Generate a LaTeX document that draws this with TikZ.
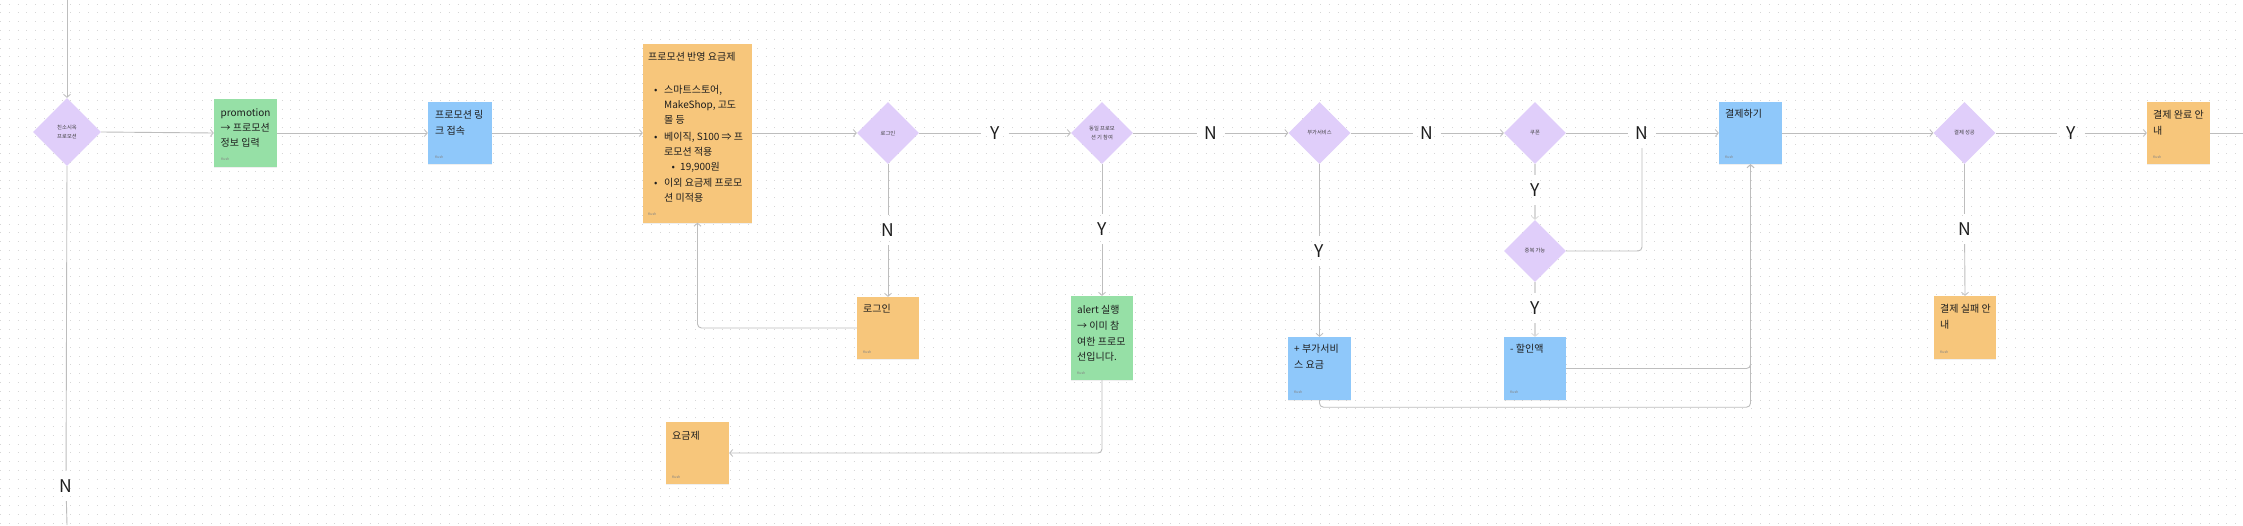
\documentclass[tikz,border=0pt]{standalone}
\usepackage{fontspec}
\setmainfont{Noto Sans CJK KR}
\usetikzlibrary{shapes.geometric,arrows.meta,calc,shadows}
\definecolor{dia}{HTML}{E0CEFA}
\definecolor{grn}{HTML}{96E0A6}
\definecolor{blu}{HTML}{8FC8FA}
\definecolor{org}{HTML}{F7C67B}
\definecolor{lnc}{HTML}{BDBDBD}
\definecolor{lnl}{HTML}{D9D9D9}
\definecolor{txc}{HTML}{1E1E1E}
\definecolor{dotc}{HTML}{D6D6D6}
\tikzset{
  dnode/.style={diamond, fill=dia, minimum width=62pt, minimum height=62pt, inner sep=0pt, align=center, font=\fontsize{5.3}{9}\selectfont, text=txc!85},
  card/.style={rectangle, inner sep=0pt, drop shadow={shadow xshift=0pt, shadow yshift=-1pt, opacity=0.12}},
  conn/.style={draw=lnc, line width=0.9pt, rounded corners=4pt},
  connl/.style={draw=lnl, line width=1.6pt, rounded corners=4pt},
  tip/.style={-{Straight Barb[length=3pt,width=7pt,line width=0.8pt]}},
  yn/.style={font=\fontsize{17.5}{17.5}\selectfont, text=txc, minimum width=27pt, minimum height=30pt, inner sep=0pt},
  ltxt/.style={anchor=west, font=\fontsize{10}{15}\selectfont, text=txc, inner sep=0pt, text height=8.5pt, text depth=1.5pt},
  auth/.style={anchor=west, font=\fontsize{3.5}{4}\selectfont, text=txc!55, inner sep=0pt}
}
\begin{document}
\begin{tikzpicture}[x=1pt,y=-1pt]
\useasboundingbox (0,0) rectangle (2243,525);
\fill[white] (0,0) rectangle (2243,525);
% dotted grid
\foreach \r in {0,...,59}{
  \draw[dotc, line width=1pt, dash pattern=on 1pt off 7.8pt] (0,{4+\r*8.8}) -- (2243,{4+\r*8.8});
}
% diamonds
\node[dnode, minimum width=68pt, minimum height=68pt] (d1) at (67,132) {친소시옥\\프로모션};
\node[dnode] (d2) at (888,133) {로그인};
\node[dnode] (d3) at (1102,133) {동일 프로모\\션 기 참여};
\node[dnode] (d4) at (1319.5,133) {부가서비스};
\node[dnode] (d5) at (1535,133) {쿠폰};
\node[dnode] (d6) at (1535,251) {중복 가능};
\node[dnode] (d7) at (1964.5,133) {결제 성공};
% cards
\node[card, fill=grn, minimum width=63pt, minimum height=68pt] (g1) at (245.5,133) {};
\node[card, fill=blu, minimum width=64pt, minimum height=62pt] (b1) at (460,133) {};
\node[card, fill=org, minimum width=109pt, minimum height=179pt] (o1) at (697.5,133) {};
\node[card, fill=org, minimum width=62pt, minimum height=62pt] (o2) at (888,328) {};
\node[card, fill=grn, minimum width=62pt, minimum height=84pt] (g2) at (1102,338) {};
\node[card, fill=org, minimum width=63pt, minimum height=62pt] (o3) at (697.5,453) {};
\node[card, fill=blu, minimum width=63pt, minimum height=63pt] (b3) at (1319.5,368.5) {};
\node[card, fill=blu, minimum width=62pt, minimum height=63pt] (b4) at (1535,368.5) {};
\node[card, fill=blu, minimum width=63pt, minimum height=62pt] (b2) at (1750.5,133) {};
\node[card, fill=org, minimum width=63pt, minimum height=62pt] (o4) at (2178.5,133) {};
\node[card, fill=org, minimum width=62pt, minimum height=63pt] (o5) at (1965,327.5) {};
% card texts
\node[ltxt] (g1a) at (220.5,112.5) {promotion};
\node[ltxt] (g1b) at (220.5,127.5) {→ 프로모션};
\node[ltxt] (g1c) at (220.5,142.5) {정보 입력};
\node[auth] (g1k) at (221,159) {Kush};
\node[ltxt] (b1a) at (435,115) {프로모션 링};
\node[ltxt] (b1b) at (435,130.5) {크 접속};
\node[auth] (b1k) at (435,157) {Kush};
\node[ltxt] (o1a) at (648,57) {프로모션 반영 요금제};
\node[ltxt] (o1p1) at (654,90) {•};
\node[ltxt] (o1b) at (664,90) {스마트스토어,};
\node[ltxt] (o1c) at (664,105) {MakeShop, 고도};
\node[ltxt] (o1d) at (664,119.5) {몰 등};
\node[ltxt] (o1p2) at (654,137) {•};
\node[ltxt] (o1e) at (664,137) {베이직, S100 ⇒ 프};
\node[ltxt] (o1f) at (664,151.5) {로모션 적용};
\node[ltxt] (o1p3) at (671.5,167) {•};
\node[ltxt] (o1g) at (680,167) {19,900원};
\node[ltxt] (o1p4) at (654,183) {•};
\node[ltxt] (o1h) at (664,183) {이외 요금제 프로모};
\node[ltxt] (o1i) at (664,198) {션 미적용};
\node[auth] (o1k) at (648,214) {Kush};
\node[ltxt] (o2a) at (863,309) {로그인};
\node[auth] (o2k) at (863,352) {Kush};
\node[ltxt] (g2a) at (1077,310) {alert 실행};
\node[ltxt] (g2b) at (1077,325.5) {→ 이미 참};
\node[ltxt] (g2c) at (1077,341.5) {여한 프로모};
\node[ltxt] (g2d) at (1077,357) {선입니다.};
\node[auth] (g2k) at (1077,373) {Kush};
\node[ltxt] (o3a) at (672,436) {요금제};
\node[auth] (o3k) at (672,477) {Kush};
\node[ltxt] (b3a) at (1294,349) {+ 부가서비};
\node[ltxt] (b3b) at (1294,365) {스 요금};
\node[auth] (b3k) at (1294,392) {Kush};
\node[ltxt] (b4a) at (1510,349) {- 할인액};
\node[auth] (b4k) at (1510,392) {Kush};
\node[ltxt] (b2a) at (1725,114) {결제하기};
\node[auth] (b2k) at (1725,157) {Kush};
\node[ltxt] (o4a) at (2153,115) {결제 완료 안};
\node[ltxt] (o4b) at (2153,130.5) {내};
\node[auth] (o4k) at (2153,157) {Kush};
\node[ltxt] (o5a) at (1940,309) {결제 실패 안};
\node[ltxt] (o5b) at (1940,324.5) {내};
\node[auth] (o5k) at (1940,352) {Kush};
% Y/N labels
\node[yn] (N0) at (66,486) {N};
\node[yn] (Y1) at (995,133) {Y};
\node[yn] (N1) at (1211,133) {N};
\node[yn] (N2) at (1427,133) {N};
\node[yn] (N3) at (1642,133) {N};
\node[yn] (Y5) at (2071,133) {Y};
\node[yn] (N4) at (888,230) {N};
\node[yn] (Y2) at (1102,229) {Y};
\node[yn] (Y3) at (1319.5,251) {Y};
\node[yn] (Y4) at (1535,190) {Y};
\node[yn] (Y6) at (1535,308) {Y};
\node[yn] (N5) at (1964.5,229) {N};
% free ends
\coordinate (topc) at (67,0);
\coordinate (botc) at (67,525);
\coordinate (rightc) at (2243,133);
% connectors
\draw[conn,tip] (topc) -- (d1.north);
\draw[conn] (d1.south) -- (N0);
\draw[conn] (N0) -- (botc);
\draw[conn,tip] (d1.east) -- (g1.west);
\draw[conn,tip] (g1.east) -- (b1.west);
\draw[conn,tip] (b1.east) -- (o1.west);
\draw[conn,tip] (o1.east) -- (d2.west);
\draw[conn] (d2.east) -- (Y1);
\draw[conn,tip] (Y1) -- (d3.west);
\draw[conn] (d3.east) -- (N1);
\draw[conn,tip] (N1) -- (d4.west);
\draw[conn] (d4.east) -- (N2);
\draw[conn,tip] (N2) -- (d5.west);
\draw[conn] (d5.east) -- (N3);
\draw[conn,tip] (N3) -- (b2.west);
\draw[conn,tip] (b2.east) -- (d7.west);
\draw[conn] (d7.east) -- (Y5);
\draw[conn,tip] (Y5) -- (o4.west);
\draw[conn] (o4.east) -- (rightc);
\draw[conn] (d2.south) -- (N4);
\draw[conn,tip] (N4) -- (o2.north);
\draw[conn,tip] (o2.west) -| (o1.south);
\draw[conn] (d3.south) -- (Y2);
\draw[conn,tip] (Y2) -- (g2.north);
\draw[conn,tip] (g2.south) |- (o3.east);
\draw[conn] (d4.south) -- (Y3);
\draw[conn,tip] (Y3) -- (b3.north);
\draw[connl] (d5.south) -- (Y4);
\draw[connl,tip] (Y4) -- (d6.north);
\draw[connl] (d6.south) -- (Y6);
\draw[connl,tip] (Y6) -- (b4.north);
\draw[conn] (d6.east) -| (N3.south);
\draw[conn,tip] (b4.east) -| (b2.south);
\draw[conn,tip] (b3.south) -- ($(b3.south)+(0,7)$) -| (b2.south);
\draw[conn] (d7.south) -- (N5);
\draw[conn,tip] (N5) -- (o5.north);
\end{tikzpicture}
\end{document}
